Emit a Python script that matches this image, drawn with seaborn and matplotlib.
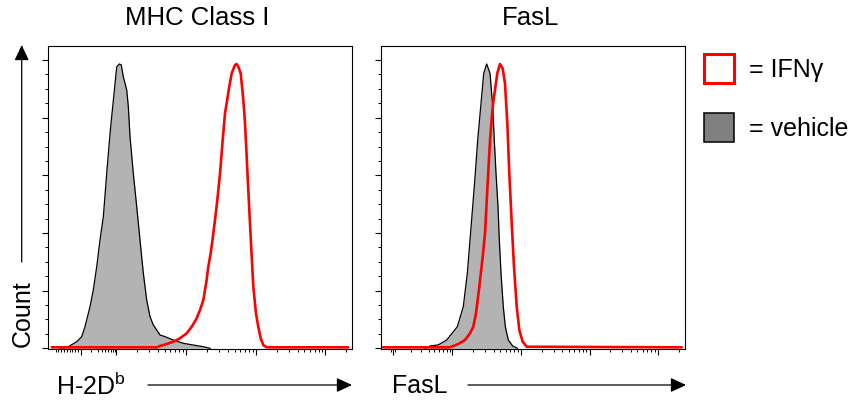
import numpy as np
import matplotlib.pyplot as plt
from matplotlib.patches import Patch
from matplotlib.ticker import FixedLocator, MultipleLocator
import seaborn as sns


# Flow histograms (x = position on the biex/log display axis in decades, y = count, mode ~ 5)

panel_titles = ["MHC Class I", "FasL"]
axis_labels = ["H-2D$^{\\mathregular{b}}$", "FasL"]
legend_labels = ["= IFN\u03b3", "= vehicle"]

mhc_vehicle_x = [1.200, 1.315, 1.436, 1.507, 1.554, 1.626, 1.673, 1.722, 1.769, 1.817,
                 1.865, 1.913, 1.951, 2.009, 2.046, 2.074, 2.103, 2.152, 2.175, 2.199,
                 2.246, 2.295, 2.342, 2.390, 2.438, 2.486, 2.533, 2.582, 2.629, 2.701,
                 2.819, 2.963, 3.106, 3.249, 3.350]
mhc_vehicle_y = [0.0, 0.028, 0.115, 0.202, 0.375, 0.722, 1.011, 1.416, 1.879, 2.283,
                 3.035, 3.729, 4.191, 4.884, 4.931, 4.914, 4.711, 4.480, 4.191, 3.670,
                 3.035, 2.456, 1.879, 1.301, 0.838, 0.548, 0.404, 0.317, 0.231, 0.202,
                 0.144, 0.087, 0.057, 0.028, 0.0]

mhc_ifng_x = [1.077, 2.582, 2.629, 2.725, 2.820, 2.915, 3.011, 3.083, 3.154, 3.202,
              3.250, 3.297, 3.321, 3.355, 3.393, 3.417, 3.450, 3.489, 3.527, 3.560,
              3.584, 3.613, 3.656, 3.703, 3.727, 3.751, 3.785, 3.823, 3.847, 3.871,
              3.894, 3.918, 3.943, 3.966, 4.004, 4.037, 4.072, 4.109, 4.158, 5.327]
mhc_ifng_y = [0.017, 0.017, 0.040, 0.075, 0.115, 0.173, 0.260, 0.375, 0.520, 0.664,
              0.838, 1.185, 1.416, 1.647, 1.994, 2.225, 2.572, 3.035, 3.613, 4.075,
              4.249, 4.480, 4.769, 4.913, 4.931, 4.884, 4.769, 4.307, 3.902, 3.323,
              2.745, 2.168, 1.589, 1.070, 0.607, 0.375, 0.173, 0.057, 0.017, 0.017]

fasl_vehicle_x = [1.600, 1.675, 1.796, 1.918, 2.073, 2.160, 2.219, 2.258, 2.297, 2.335,
                  2.370, 2.414, 2.458, 2.501, 2.550, 2.589, 2.612, 2.637, 2.666, 2.685,
                  2.710, 2.743, 2.773, 2.816, 2.880, 2.950]
fasl_vehicle_y = [0.0, 0.040, 0.060, 0.144, 0.375, 0.722, 1.301, 1.879, 2.456, 3.035,
                  3.613, 4.191, 4.769, 4.931, 4.769, 4.191, 3.613, 3.035, 2.456, 1.879,
                  1.301, 0.722, 0.375, 0.144, 0.040, 0.0]

fasl_ifng_x = [0.990, 1.960, 2.015, 2.087, 2.185, 2.258, 2.306, 2.345, 2.394, 2.443,
               2.477, 2.510, 2.550, 2.589, 2.622, 2.656, 2.695, 2.734, 2.768, 2.802,
               2.831, 2.866, 2.899, 2.939, 2.977, 3.026, 3.085, 5.344]
fasl_ifng_y = [0.017, 0.017, 0.040, 0.075, 0.144, 0.260, 0.375, 0.607, 1.070, 1.589,
               1.994, 2.745, 3.613, 4.191, 4.480, 4.769, 4.931, 4.856, 4.596, 3.902,
               3.035, 2.168, 1.416, 0.722, 0.317, 0.115, 0.028, 0.017]

# display axis: limits and where the "zero" of the biex scale sits
x_limits = [(1.031, 5.380), (0.965, 5.399)]
x_zero = [1.493, 1.136]


sns.set_style("ticks")
plt.rcParams["font.family"] = ["Liberation Sans", "DejaVu Sans"]
plt.rcParams["text.color"] = "black"

W, H = 853, 404
fig = plt.figure(figsize=(W / 100, H / 100), dpi=100)


def fx(px):
    return px / W


def fy(py):
    return 1 - py / H


axes = [fig.add_axes([fx(48.5), fy(349.3), 303.5 / W, 303.3 / H]),
        fig.add_axes([fx(381.3), fy(349.3), 304.2 / W, 303.3 / H])]

traces = [(mhc_vehicle_x, mhc_vehicle_y, mhc_ifng_x, mhc_ifng_y),
          (fasl_vehicle_x, fasl_vehicle_y, fasl_ifng_x, fasl_ifng_y)]

for i, ax in enumerate(axes):
    vx, vy, rx, ry = traces[i]
    ax.fill_between(vx, vy, 0, color="#b3b3b3", lw=0)
    sns.lineplot(x=vx, y=vy, ax=ax, color="black", linewidth=0.9, estimator=None)
    sns.lineplot(x=rx, y=ry, ax=ax, color="#ff0000", linewidth=1.9, estimator=None)

    lo, hi = x_limits[i]
    z = x_zero[i]
    ax.set_xlim(lo, hi)
    ax.set_ylim(-0.017, 5.243)

    majors = [z, 2, 3, 4, 5]
    minors = [z + (2 - z) * np.log10(k) for k in range(2, 10)]
    if i == 0:
        minors += [z - 0.04 * j for j in range(1, 10)]
    else:
        minors += [z - 0.03, z + 0.03]
    for d in range(2, 6):
        minors += [d + np.log10(k) for k in range(2, 10) if d + np.log10(k) < hi - 0.02]
    ax.xaxis.set_major_locator(FixedLocator(majors))
    ax.xaxis.set_minor_locator(FixedLocator(minors))
    ax.yaxis.set_major_locator(MultipleLocator(1))
    ax.yaxis.set_minor_locator(MultipleLocator(0.25))
    ax.tick_params(which="major", direction="out", length=4.2, width=0.8, color="black",
                   labelbottom=False, labelleft=False)
    ax.tick_params(which="minor", direction="out", length=2.0, width=0.7, color="black")
    for s in ax.spines.values():
        s.set_visible(True)
        s.set_linewidth(0.8)
        s.set_color("black")
    ax.set_xlabel("")
    ax.set_ylabel("")

# titles
fig.text(fx(197), fy(18), panel_titles[0], ha="center", va="center", fontsize=18.5)
fig.text(fx(531), fy(18), panel_titles[1], ha="center", va="center", fontsize=18.5)

# axis labels with arrows
arrow = dict(arrowstyle="-|>,head_length=0.47,head_width=0.22", mutation_scale=20,
             lw=0.9, color="black", shrinkA=0, shrinkB=0)
fig.text(fx(56), fy(386), axis_labels[0], ha="left", va="center", fontsize=18)
fig.text(fx(392), fy(386), axis_labels[1], ha="left", va="center", fontsize=18)
axes[0].annotate("", xy=(fx(352), fy(385)), xytext=(fx(148), fy(385)),
                 xycoords="figure fraction", arrowprops=arrow)
axes[1].annotate("", xy=(fx(686), fy(385)), xytext=(fx(468), fy(385)),
                 xycoords="figure fraction", arrowprops=arrow)
fig.text(fx(22.5), fy(314), "Count", ha="center", va="center", rotation=90, fontsize=18)
axes[0].annotate("", xy=(fx(21.7), fy(45)), xytext=(fx(21.7), fy(262)),
                 xycoords="figure fraction", arrowprops=arrow)

# legend
handles = [Patch(facecolor="white", edgecolor="#ff0000", linewidth=2.2),
           Patch(facecolor="#808080", edgecolor="black", linewidth=1.1)]
fig.legend(handles=handles, labels=legend_labels, loc="upper left",
           bbox_to_anchor=(fx(704), fy(54)), frameon=False, borderpad=0,
           borderaxespad=0, handlelength=1.2, handleheight=1.4, handletextpad=0.6,
           labelspacing=1.22, fontsize=18)

fig.savefig("out.png", dpi=100)
